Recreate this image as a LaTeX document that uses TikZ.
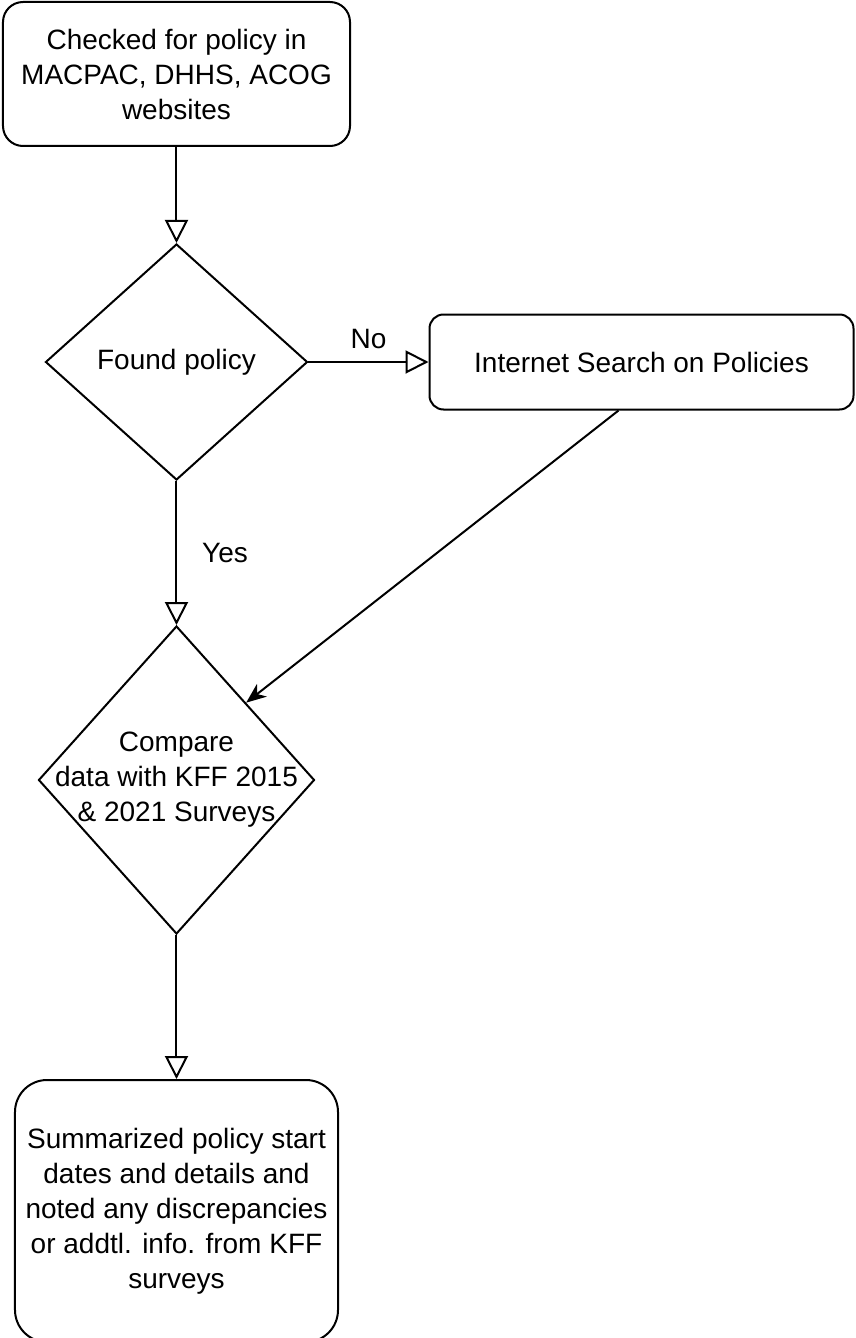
\documentclass[tikz,border=0pt]{standalone}
\usepackage{fontspec}
\setmainfont{Liberation Sans}
\usetikzlibrary{arrows.meta, positioning, shapes.geometric}

\begin{document}
\begin{tikzpicture}[
    node distance=48pt,
    font=\fontsize{14pt}{17.5pt}\selectfont,
    box/.style={rectangle, draw, rounded corners=10pt, line width=1pt, align=center},
    decision/.style={diamond, draw, line width=1pt, inner sep=0pt, align=center},
    arrow/.style={line width=1pt, -{Triangle[open, length=11.5pt, width=11.5pt]}},
    solidarrow/.style={line width=1pt, -{Stealth[length=10pt, width=8pt, inset=3pt]}},
]
    \useasboundingbox (-88.25pt,37pt) rectangle (339.75pt,-632pt);

    % Steps
    \node[box, minimum width=173.5pt, minimum height=72pt] (check) {Checked for policy in\\MACPAC, DHHS, ACOG\\websites};
    \node[decision, minimum width=131pt, minimum height=118pt, below=of check] (found) {Found policy};
    \node[box, rounded corners=7pt, minimum width=212pt, minimum height=47.5pt, right=60pt of found] (search) {Internet Search on Policies};
    \node[decision, minimum width=138pt, minimum height=154pt, below=72pt of found,
        label={[align=center]center:{Compare\\data with KFF 2015\\\& 2021 Surveys}}] (compare) {};
    \node[box, rounded corners=16pt, minimum width=161.5pt, minimum height=131pt, below=72pt of compare] (summary) {Summarized policy start\\dates and details and\\noted any discrepancies\\or addtl. info. from KFF\\surveys};
    \coordinate (searchfoot) at ([xshift=-11.5pt]search.south);

    % Connect everything
    \draw[arrow] (check) -- (found);
    \draw[arrow] (found) -- node[above=3pt] {No} (search);
    \draw[arrow] (found) -- node[right=9pt] {Yes} (compare);
    \draw[solidarrow] (searchfoot) -- (compare.48);
    \draw[arrow] (compare) -- (summary);
\end{tikzpicture}
\end{document}
